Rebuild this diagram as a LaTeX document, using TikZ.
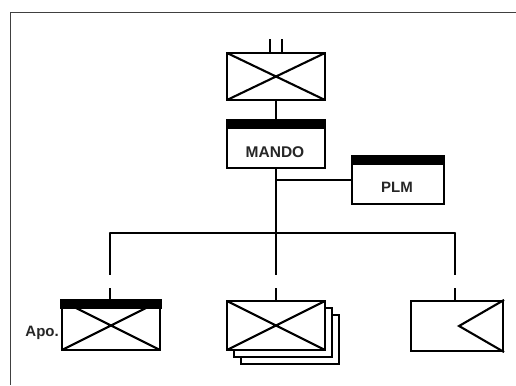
\documentclass[tikz,border=0pt]{standalone}
\usepackage{fontspec}
\setmainfont{Liberation Sans}
\usetikzlibrary{calc}
\begin{document}
\begin{tikzpicture}[x=1pt,y=-1pt,
  box/.style={draw=black,line width=2.1pt,fill=white,inner sep=0pt,minimum width=98pt,minimum height=48pt},
  barred/.style={path picture={\fill[black] (path picture bounding box.north west) rectangle ([yshift=-9pt]path picture bounding box.north east);}},
  crossed/.style={path picture={\draw[line width=2.1pt] (path picture bounding box.north west) -- (path picture bounding box.south east) (path picture bounding box.south west) -- (path picture bounding box.north east);}},
  wire/.style={line width=2.1pt},
  lbl/.style={font=\fontsize{15.5}{16}\selectfont\bfseries,text=black!85,inner sep=0pt}]
\useasboundingbox (0,0) rectangle (516,385);
\fill[white] (0,0) rectangle (516,385);
\draw[black!75,line width=0.9pt] (516,12) -- (10,12) -- (10,385);

% top box
\node[box,crossed,minimum height=47pt] (top) at (276,76.5) {};
\coordinate (t1) at ([xshift=-6pt]top.north);
\coordinate (t2) at ([xshift=6pt]top.north);
\draw[wire] (t1) -- ++(0,-13);
\draw[wire] (t2) -- ++(0,-13);

% MANDO
\node[box,barred] (mando) at (276,144) {};
\node[lbl] (mandotxt) at (275,152.5) {MANDO};

% PLM
\node[box,barred,minimum width=92pt] (plm) at (398,180) {};
\node[lbl,font=\fontsize{15}{16}\selectfont\bfseries] (plmtxt) at (397,187.5) {PLM};

\draw[wire] (top.south) -- (mando.north);
\coordinate (busc) at (276,233);
\draw[wire] (mando.south) -- (busc);
\draw[wire] (plm.west) -- (plm.west -| mando.south);

% bottom boxes
\node[box,minimum height=49pt] (mid3) at (290,339.5) {};
\node[box,minimum height=49pt] (mid2) at (283,332.5) {};
\node[box,crossed,minimum height=49pt] (mid) at (276,325.5) {};
\node[box,crossed,minimum height=49pt] (left) at (111,325.5) {};
\fill[black] ([xshift=-1pt,yshift=1pt]left.north west) rectangle ([xshift=1pt,yshift=-9pt]left.north east);
\node[box,minimum width=92pt,minimum height=50pt] (right) at (457,326) {};
\draw[line width=2.1pt,line join=miter] (right.north east) -- ([xshift=-45pt]right.east) -- (right.south east);

\node[font=\fontsize{15}{16}\selectfont\bfseries,text=black!85,inner sep=0pt,anchor=base east] (apo) at (59,336) {Apo.};

% bus
\coordinate (busl) at (110,233);
\coordinate (busr) at (455,233);
\draw[wire,line cap=round] (busl) -- (busr);
\foreach \n/\x in {left/110,mid/276,right/455}{
  \coordinate (d\n) at (\x,275);
  \draw[wire] (\x,233) -- (d\n);
  \draw[wire] (\x,288) -- (\n.north -| d\n);
}
\end{tikzpicture}
\end{document}
